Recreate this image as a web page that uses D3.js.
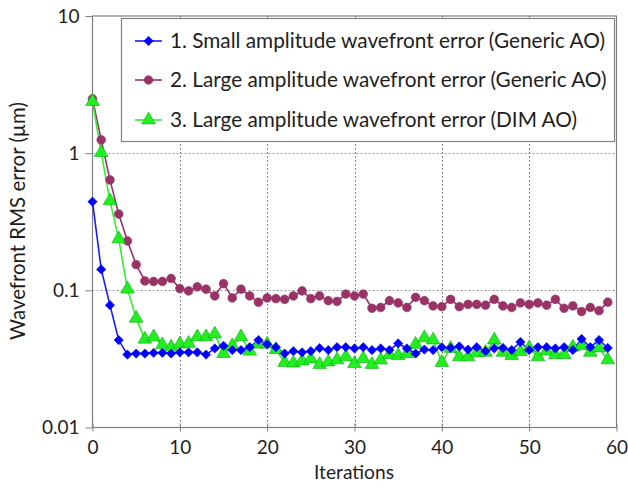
<!DOCTYPE html>
<html><head><meta charset="utf-8">
<script src="https://cdn.jsdelivr.net/npm/d3@7"></script>
<style>html,body{margin:0;padding:0;background:#fff}svg{display:block}</style>
</head><body>
<svg id="c" width="628" height="493"></svg>
<script>
const iterations = d3.range(0, 60);
const seriesNames = [
  "1. Small amplitude wavefront error (Generic AO)",
  "2. Large amplitude wavefront error (Generic AO)",
  "3. Large amplitude wavefront error (DIM AO)"
];
const smallGeneric = [0.443,0.142,0.078,0.0434,0.034,0.0346,0.0346,0.035,0.035,0.0346,0.0353,0.0353,0.0353,0.034,0.0377,
  0.0394,0.0367,0.0367,0.0385,0.0434,0.0404,0.0385,0.0346,0.036,0.0353,0.036,0.0379,0.0367,0.0385,0.0385,
  0.0377,0.0385,0.0367,0.0377,0.0367,0.041,0.0377,0.0346,0.037,0.0367,0.0385,0.038,0.039,0.037,0.0385,
  0.036,0.0377,0.038,0.0367,0.042,0.0367,0.0385,0.0385,0.0377,0.0385,0.0367,0.0442,0.0385,0.0434,0.038];
const largeGeneric = [2.49,1.25,0.638,0.36,0.229,0.154,0.117,0.116,0.116,0.122,0.103,0.099,0.106,0.102,0.091,
  0.112,0.088,0.102,0.091,0.082,0.088,0.087,0.086,0.091,0.099,0.087,0.091,0.084,0.083,0.094,
  0.091,0.094,0.074,0.075,0.084,0.081,0.075,0.089,0.084,0.077,0.076,0.086,0.076,0.079,0.079,
  0.078,0.086,0.077,0.075,0.081,0.079,0.081,0.078,0.086,0.074,0.077,0.070,0.075,0.071,0.082];
const largeDIM = [2.38,1.01,0.449,0.237,0.102,0.0625,0.044,0.0458,0.040,0.0385,0.0405,0.041,0.0458,0.0458,0.048,
  0.0346,0.0394,0.0458,0.036,0.0405,0.0405,0.037,0.0298,0.0295,0.0305,0.0316,0.0288,0.030,0.0311,0.0327,
  0.0292,0.0318,0.0288,0.031,0.034,0.0334,0.0346,0.0404,0.045,0.0434,0.0298,0.0377,0.0327,0.0327,0.035,
  0.0353,0.0434,0.0353,0.0334,0.0357,0.038,0.0327,0.036,0.034,0.034,0.0385,0.0394,0.0353,0.038,0.0311];
const xTicks = [0,10,20,30,40,50,60];
const yTicks = [0.01,0.1,1,10];
const yTickLabels = ["0.01","0.1","1","10"];
const xTitle = "Iterations";
const yTitle = "Wavefront RMS error (µm)";

const svg = d3.select("#c");
const L = 92.5, R = 616.5, T = 16, B = 427.5;
const x = d3.scaleLinear().domain([0,60]).range([L,R]);
const y = d3.scaleLog().domain([0.01,10]).range([B,T]);
const font = "Lato, 'Open Sans', sans-serif";
const txt = "#1e1e1e";

// scale a text's font size so its rendered width matches a target
function fit(sel, target){
  const n = sel.node(); const fs = parseFloat(sel.attr("font-size"));
  const w = n.getComputedTextLength();
  if (w > 0) sel.attr("font-size", (fs*target/w).toFixed(2));
}

// gridlines
svg.append("g").selectAll("line").data([10,20,30,40,50]).join("line")
  .attr("x1",d=>Math.round(x(d))+0.5).attr("x2",d=>Math.round(x(d))+0.5)
  .attr("y1",T).attr("y2",B).attr("stroke","#666").attr("stroke-width",1).attr("stroke-dasharray","1.5,2.5");
svg.append("g").selectAll("line").data([0.1,1]).join("line")
  .attr("x1",L).attr("x2",R).attr("y1",d=>Math.round(y(d))+0.5).attr("y2",d=>Math.round(y(d))+0.5)
  .attr("stroke","#999").attr("stroke-width",1).attr("stroke-dasharray","2,2");

// frame
svg.append("rect").attr("x",L).attr("y",T).attr("width",R-L).attr("height",B-T)
  .attr("fill","none").attr("stroke","#808080").attr("stroke-width",1.2);

// axes
const xAxis = d3.axisBottom(x).tickValues(xTicks).tickSize(4).tickFormat(d3.format("d"));
const gx = svg.append("g").attr("transform",`translate(0,${B})`).call(xAxis);
gx.select(".domain").remove();
gx.selectAll(".tick line").attr("y1",-4).attr("y2",4).attr("stroke","#808080");
gx.selectAll(".tick text").attr("font-family",font).attr("font-size",19).attr("fill",txt).attr("dy","0.71em").attr("y",13);

const yAxis = d3.axisLeft(y).tickValues(yTicks).tickSize(7).tickFormat((d,i)=>yTickLabels[i]);
const gy = svg.append("g").attr("transform",`translate(${L},0)`).call(yAxis);
gy.select(".domain").remove();
gy.selectAll(".tick line").attr("stroke","#808080");
gy.selectAll(".tick text").attr("font-family",font).attr("font-size",19).attr("fill",txt).attr("x",-13);

const xt = svg.append("text").attr("x",354).attr("y",479).attr("text-anchor","middle")
  .attr("font-family",font).attr("font-size",18).attr("fill",txt).text(xTitle);
fit(xt, 80);
const yt = svg.append("text").attr("transform","translate(25,221) rotate(-90)").attr("text-anchor","middle")
  .attr("font-family",font).attr("font-size",18).attr("fill",txt).text(yTitle);
fit(yt, 238);

// series
const lineColors = ["#1a1aff","#993366","#33ee33"];
const data = [smallGeneric, largeGeneric, largeDIM];
const line = d3.line().x((d,i)=>x(iterations[i])).y(d=>y(d));
const sym = [d3.symbolDiamond2, d3.symbolCircle, d3.symbolTriangle];
const symSize = [55, 60, 80];
const fills = ["#0000ff","#993366","#22ee22"];
const strokes = ["#0000ff","#993366","#00b000"];

const order = [1,2,0];
order.forEach(k=>{
  svg.append("path").datum(data[k]).attr("d",line).attr("fill","none")
    .attr("stroke",lineColors[k]).attr("stroke-width",1.6);
});
order.forEach(k=>{
  svg.append("g").selectAll("path").data(data[k]).join("path")
    .attr("transform",(d,i)=>`translate(${x(iterations[i])},${y(d)})`)
    .attr("d",d3.symbol().type(sym[k]).size(symSize[k]))
    .attr("fill",fills[k]).attr("stroke",strokes[k]).attr("stroke-width",0.6);
});

// legend
const lg = svg.append("g");
lg.append("rect").attr("x",121.5).attr("y",18.5).attr("width",493).attr("height",123)
  .attr("fill","#fff").attr("stroke","#808080").attr("stroke-width",1.2);
const rowsY = [41, 80, 120];
seriesNames.forEach((name,k)=>{
  const ry = rowsY[k];
  lg.append("line").attr("x1",135).attr("x2",162).attr("y1",ry).attr("y2",ry)
    .attr("stroke",lineColors[k]).attr("stroke-width",1.6);
  lg.append("path").attr("transform",`translate(148.5,${ry})`)
    .attr("d",d3.symbol().type(sym[k]).size(symSize[k]))
    .attr("fill",fills[k]).attr("stroke",strokes[k]).attr("stroke-width",0.6);
  const t = lg.append("text").attr("x",170).attr("y",ry).attr("dy","0.35em")
    .attr("font-family",font).attr("font-size",18).attr("fill",txt).text(name);
  if (k === 0) fit(t, 435);
});
// use the same size for all legend rows
const lfs = lg.select("text").attr("font-size");
lg.selectAll("text").attr("font-size", lfs);
</script>
</body></html>
